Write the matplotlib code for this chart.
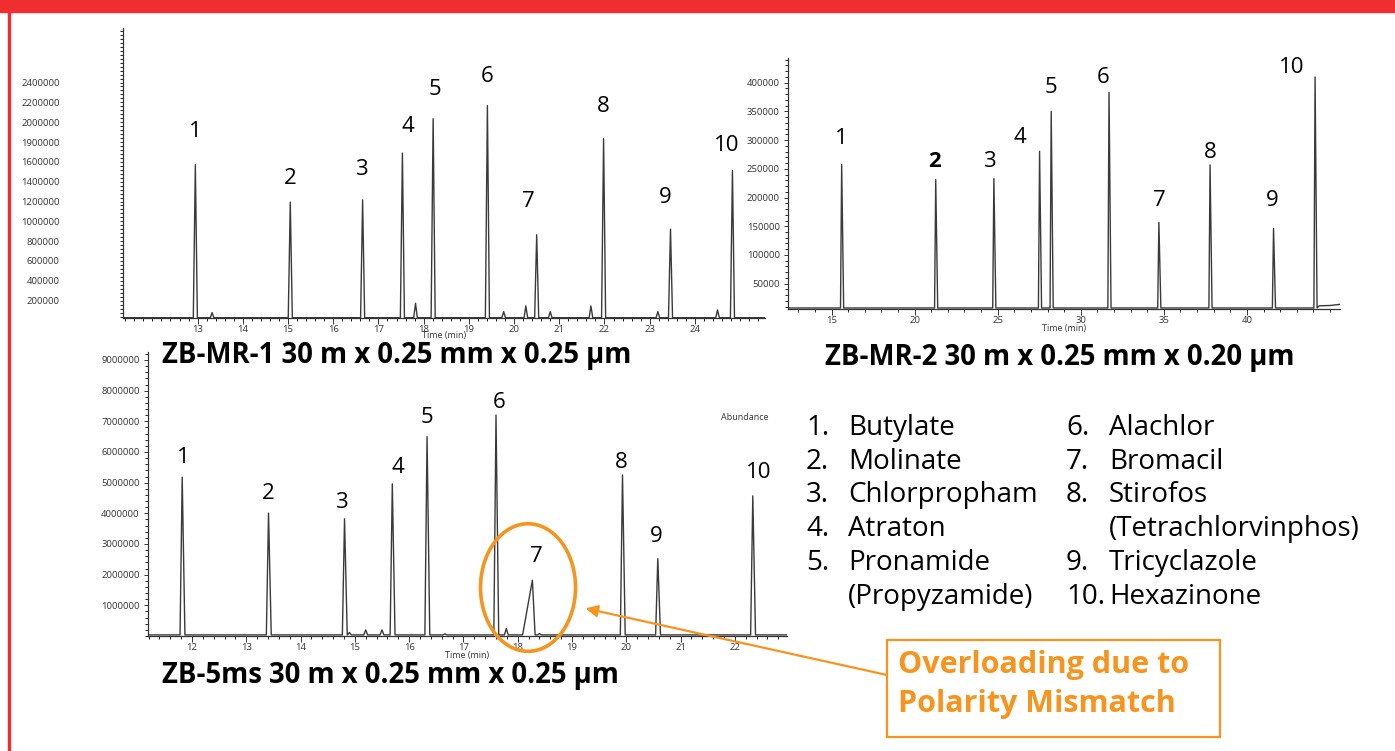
import matplotlib.pyplot as plt
from matplotlib.patches import Ellipse, Rectangle
from matplotlib.ticker import MultipleLocator, FixedLocator

plt.rcParams['font.family'] = ['Open Sans', 'DejaVu Sans']

W, H = 1395, 751
RED = '#ee2e2f'
ORANGE = '#f7941d'
TRACE = '#3a3a3a'

# --- ZB-MR-1 (top left) ---
mr1_rt = [12.95, 15.05, 16.65, 17.53, 18.21, 19.41, 20.50, 21.98, 23.46, 24.83]
mr1_top = [1571000, 1194000, 1217000, 1689000, 2035000, 2167000, 864000, 1833000, 921000, 1513000]
mr1_minor_rt = [13.32, 17.82, 19.77, 20.26, 20.80, 21.70, 23.18, 24.50]
mr1_minor_top = [79000, 174000, 89000, 146000, 89000, 146000, 89000, 106000]
mr1_base = 28000
mr1_ytick_vals = [200000, 400000, 600000, 800000, 1000000, 1200000, 1400000, 1600000,
                  1800000, 2000000, 2200000, 2400000]
mr1_ytick_text = ['200000', '400000', '600000', '800000', '1000000', '1200000', '1400000',
                  '1600000', '1900000', '2000000', '2200000', '2400000']
mr1_xticks = [13, 14, 15, 16, 17, 18, 19, 20, 21, 22, 23, 24]

# --- ZB-MR-2 (top right) ---
mr2_rt = [15.61, 21.27, 24.77, 27.52, 28.22, 31.70, 34.70, 37.78, 41.60, 44.10]
mr2_top = [257300, 231200, 232900, 280500, 350200, 383300, 156800, 256800, 146300, 410100]
mr2_base = 7700
mr2_tail_rt = [44.35, 45.0, 45.6]
mr2_tail_val = [11500, 12000, 14000]
mr2_yticks = [50000, 100000, 150000, 200000, 250000, 300000, 350000, 400000]
mr2_ytick_text = ['50000', '100000', '150000', '200000', '250000', '300000', '350000', '400000']
mr2_xticks = [15, 20, 25, 30, 35, 40]

# --- ZB-5ms (bottom) ---
ms5_rt = [11.82, 13.41, 14.81, 15.69, 16.33, 17.60, 18.27, 19.93, 20.58, 22.33]
ms5_top = [5180000, 4010000, 3820000, 4960000, 6500000, 7200000, 1820000, 5250000, 2520000, 4570000]
ms5_front = [0.04, 0.04, 0.04, 0.04, 0.04, 0.04, 0.18, 0.04, 0.04, 0.04]
ms5_minor_rt = [14.90, 15.20, 15.50, 16.66, 17.79, 18.40]
ms5_minor_top = [114000, 198000, 198000, 70000, 243000, 80000]
ms5_base = 36000
ms5_yticks = [1000000, 2000000, 3000000, 4000000, 5000000, 6000000, 7000000, 8000000, 9000000]
ms5_ytick_text = ['1000000', '2000000', '3000000', '4000000', '5000000', '6000000',
                  '7000000', '8000000', '9000000']
ms5_xticks = [12, 13, 14, 15, 16, 17, 18, 19, 20, 21, 22]

peak_names = ['1', '2', '3', '4', '5', '6', '7', '8', '9', '10']

legend_left = [('1.', 'Butylate'), ('2.', 'Molinate'), ('3.', 'Chlorpropham'),
               ('4.', 'Atraton'), ('5.', 'Pronamide'), ('', '(Propyzamide)')]
legend_right = [('6.', 'Alachlor'), ('7.', 'Bromacil'), ('8.', 'Stirofos'),
                ('', '(Tetrachlorvinphos)'), ('9.', 'Tricyclazole'), ('10.', 'Hexazinone')]

# label offsets (points) above each apex
mr1_off = [(0, 24), (0, 17), (-1, 22), (4, 19), (1, 21), (0, 21), (-6, 24), (0, 23), (-4, 23), (-4, 18)]
mr2_off = [(0, 19), (-1, 13), (-3, 12), (-14, 10), (0, 17), (-4, 11), (0, 16), (0, 9), (-1, 20), (-17, 7)]
ms5_off = [(1, 14), (0, 14), (-2, 12), (4, 12), (0, 14), (2, 9), (3, 17), (-1, 9), (-1, 16), (4, 17)]


def build_trace(rts, tops, base, x0, x1, wl, wr):
    pks = sorted(zip(rts, tops, wl, wr))
    xs, ys = [x0], [base]
    for t, h, a, b in pks:
        xs += [t - a, t, t + b]
        ys += [base, h, base]
    xs.append(x1)
    ys.append(base)
    return xs, ys


def style_axes(ax, fs=6.8):
    for s in ['top', 'right']:
        ax.spines[s].set_visible(False)
    for s in ['left', 'bottom']:
        ax.spines[s].set_color('#333333')
        ax.spines[s].set_linewidth(0.9)
    ax.tick_params(axis='both', colors='#333333', labelsize=fs, width=0.7)
    ax.tick_params(which='major', length=4)
    ax.tick_params(which='minor', length=2.5, width=0.6)


fig = plt.figure(figsize=(W / 100, H / 100), dpi=100)
fig.patch.set_facecolor('white')


def px_axes(x0, y0, x1, y1):
    return fig.add_axes([x0 / W, 1 - y1 / H, (x1 - x0) / W, (y1 - y0) / H])


# ---------- top left ----------
ax1 = px_axes(123, 28, 765, 318)
x0, x1 = 11.35, 25.55
wl = [0.045] * len(mr1_rt) + [0.04] * len(mr1_minor_rt)
xs, ys = build_trace(mr1_rt + mr1_minor_rt, mr1_top + mr1_minor_top, mr1_base, x0, x1, wl, wl)
ax1.plot(xs, ys, color=TRACE, lw=1.0)
ax1.set_xlim(x0, x1)
ax1.set_ylim(25000, 2950000)
ax1.yaxis.set_major_locator(FixedLocator(mr1_ytick_vals))
ax1.set_yticklabels(mr1_ytick_text)
ax1.yaxis.set_minor_locator(MultipleLocator(40000))
ax1.set_xticks(mr1_xticks)
ax1.xaxis.set_minor_locator(MultipleLocator(0.2))
style_axes(ax1)
ax1.tick_params(axis='y', which='major', length=2.5, pad=43)
ax1.tick_params(axis='x', pad=1)
ax1.set_xlabel('Time (min)', fontsize=6.5, labelpad=-2, color='#333333')
for i, (t, h) in enumerate(zip(mr1_rt, mr1_top)):
    ax1.annotate(peak_names[i], (t, h), xytext=mr1_off[i], textcoords='offset points',
                 ha='center', va='center', fontsize=16)

# ---------- top right ----------
ax2 = px_axes(788, 58, 1340, 309)
x0, x1 = 12.38, 45.6
wl = [0.07] * len(mr2_rt)
wr = [0.12] * len(mr2_rt)
xs, ys = build_trace(mr2_rt, mr2_top, mr2_base, x0, x1, wl, wr)
xs = xs[:-1] + mr2_tail_rt
ys = ys[:-1] + mr2_tail_val
ax2.plot(xs, ys, color=TRACE, lw=1.0)
ax2.set_xlim(x0, x1)
ax2.set_ylim(5900, 443000)
ax2.set_yticks(mr2_yticks)
ax2.set_yticklabels(mr2_ytick_text)
ax2.yaxis.set_minor_locator(MultipleLocator(10000))
ax2.set_xticks(mr2_xticks)
ax2.xaxis.set_minor_locator(MultipleLocator(1))
style_axes(ax2)
ax2.tick_params(axis='y', which='major', length=3, pad=3)
ax2.tick_params(axis='x', pad=1)
ax2.set_xlabel('Time (min)', fontsize=6.5, labelpad=-1, color='#333333')
for i, (t, h) in enumerate(zip(mr2_rt, mr2_top)):
    ax2.annotate(peak_names[i], (t, h), xytext=mr2_off[i], textcoords='offset points',
                 ha='center', va='center', fontsize=16,
                 fontweight='bold' if i == 1 else 'normal')

# ---------- bottom ----------
ax3 = px_axes(148, 352, 787, 636)
x0, x1 = 11.19, 22.96
wl = ms5_front + [0.035] * len(ms5_minor_rt)
wr = [0.05] * len(ms5_rt) + [0.035] * len(ms5_minor_rt)
xs, ys = build_trace(ms5_rt + ms5_minor_rt, ms5_top + ms5_minor_top, ms5_base, x0, x1, wl, wr)
ax3.plot(xs, ys, color=TRACE, lw=1.0)
ax3.set_xlim(x0, x1)
ax3.set_ylim(0, 9260000)
ax3.set_yticks(ms5_yticks)
ax3.set_yticklabels(ms5_ytick_text)
ax3.yaxis.set_minor_locator(MultipleLocator(200000))
ax3.set_xticks(ms5_xticks)
ax3.xaxis.set_minor_locator(MultipleLocator(0.2))
style_axes(ax3)
ax3.tick_params(axis='y', which='major', length=3, pad=3)
ax3.tick_params(axis='x', pad=1)
ax3.set_xlabel('Time (min)', fontsize=6.5, labelpad=-1, color='#333333')
ax3.text(0.934, 0.77, 'Abundance', transform=ax3.transAxes, fontsize=6.5,
         ha='center', va='center', color='#333333')
for i, (t, h) in enumerate(zip(ms5_rt, ms5_top)):
    ax3.annotate(peak_names[i], (t, h), xytext=ms5_off[i], textcoords='offset points',
                 ha='center', va='center', fontsize=16)

# orange ellipse around overloaded peak 7
ell = Ellipse((18.19, 1580000), 1.75, 4160000, fill=False, edgecolor=ORANGE, lw=2.6,
              clip_on=False, zorder=5)
ax3.add_patch(ell)

# ---------- subtitles ----------
fig.text(162 / W, 1 - 355 / H, 'ZB-MR-1 30 m x 0.25 mm x 0.25 µm', fontsize=19.8,
         fontweight='bold', ha='left', va='center')
fig.text(825 / W, 1 - 357 / H, 'ZB-MR-2 30 m x 0.25 mm x 0.20 µm', fontsize=19.8,
         fontweight='bold', ha='left', va='center')
fig.text(162 / W, 1 - 675 / H, 'ZB-5ms 30 m x 0.25 mm x 0.25 µm', fontsize=19.8,
         fontweight='bold', ha='left', va='center')

# ---------- compound legend ----------
row_y = [428, 462, 495, 529, 563, 597]
for (num, name), y in zip(legend_left, row_y):
    fig.text(806 / W, 1 - y / H, num, fontsize=20, ha='left', va='center')
    fig.text(848 / W, 1 - y / H, name, fontsize=20, ha='left', va='center')
for (num, name), y in zip(legend_right, row_y):
    fig.text(1066 / W, 1 - y / H, num, fontsize=20, ha='left', va='center')
    fig.text(1109 / W, 1 - y / H, name, fontsize=20, ha='left', va='center')

# ---------- callout box + arrow ----------
fig.patches.append(Rectangle((887 / W, 1 - 737 / H), (1220 - 887) / W, (737 - 640) / H,
                             transform=fig.transFigure, fill=False, edgecolor=ORANGE, lw=1.6))
fig.text(898 / W, 1 - 665 / H, 'Overloading due to', fontsize=22, fontweight='bold',
         color=ORANGE, ha='left', va='center')
fig.text(898 / W, 1 - 704 / H, 'Polarity Mismatch', fontsize=22, fontweight='bold',
         color=ORANGE, ha='left', va='center')
ax3.annotate('', xy=(19.25, 900000), xycoords='data',
             xytext=(887 / W, 1 - 675 / H), textcoords='figure fraction',
             arrowprops=dict(arrowstyle='-|>', color=ORANGE, lw=1.6, mutation_scale=18,
                             shrinkA=0, shrinkB=0))

# ---------- red frame ----------
fig.patches.append(Rectangle((0, 1 - 12 / H), 1, 12 / H, transform=fig.transFigure,
                             color=RED, zorder=10))
fig.patches.append(Rectangle((7.5 / W, 0), 2.5 / W, 1, transform=fig.transFigure,
                             color=RED, zorder=10))

fig.savefig('out.png', dpi=100)
